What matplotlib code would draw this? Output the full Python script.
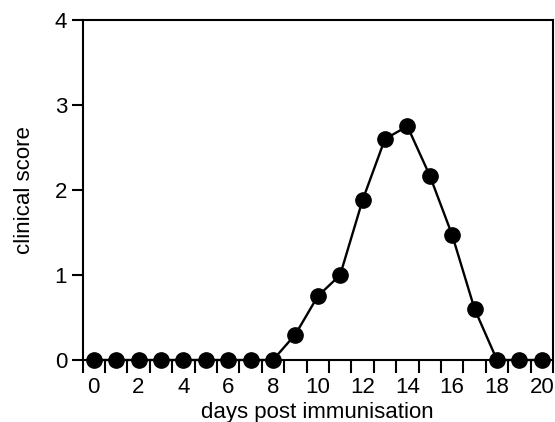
import numpy as np
import matplotlib.pyplot as plt

plt.rcParams['font.family'] = ['Liberation Sans', 'DejaVu Sans']

# clinical score per day after immunisation
days = np.arange(0, 21)
score = [0, 0, 0, 0, 0, 0, 0, 0, 0, 0.3, 0.75, 1.0, 1.88, 2.6, 2.75,
         2.17, 1.47, 0.6, 0, 0, 0]
x_labels = [0, 2, 4, 6, 8, 10, 12, 14, 16, 18, 20]
y_ticks = [0, 1, 2, 3, 4]

fig = plt.figure(figsize=(5.55, 4.22), dpi=100)
ax = fig.add_axes([82.5 / 555, 1 - 360 / 422, 470.5 / 555, 340 / 422])

ax.plot(days, score, color='black', lw=1.7, marker='o', ms=11,
        mfc='black', mec='black', clip_on=False, zorder=3)

ax.set_xlim(-0.5, 20.5)
ax.set_ylim(0, 4)

# tick marks sit between the days, labels sit under even days
ax.set_xticks(np.arange(-0.5, 21, 1.0))
ax.set_xticklabels([])
ax.set_xticks(x_labels, minor=True)
ax.set_xticklabels([str(v) for v in x_labels], minor=True)
ax.tick_params(axis='x', which='major', direction='out', length=9, width=1.5)
ax.tick_params(axis='x', which='minor', length=0, pad=12, labelsize=16)

ax.set_yticks(y_ticks)
ax.set_yticklabels([str(v) for v in y_ticks])
ax.tick_params(axis='y', direction='out', length=8, width=1.5, pad=3,
               labelsize=16)

for s in ax.spines.values():
    s.set_linewidth(1.5)

ax.set_xlabel('days post immunisation', fontsize=16, labelpad=3)
ax.set_ylabel('clinical score', fontsize=16, labelpad=14)

fig.savefig('out.png', dpi=100)
